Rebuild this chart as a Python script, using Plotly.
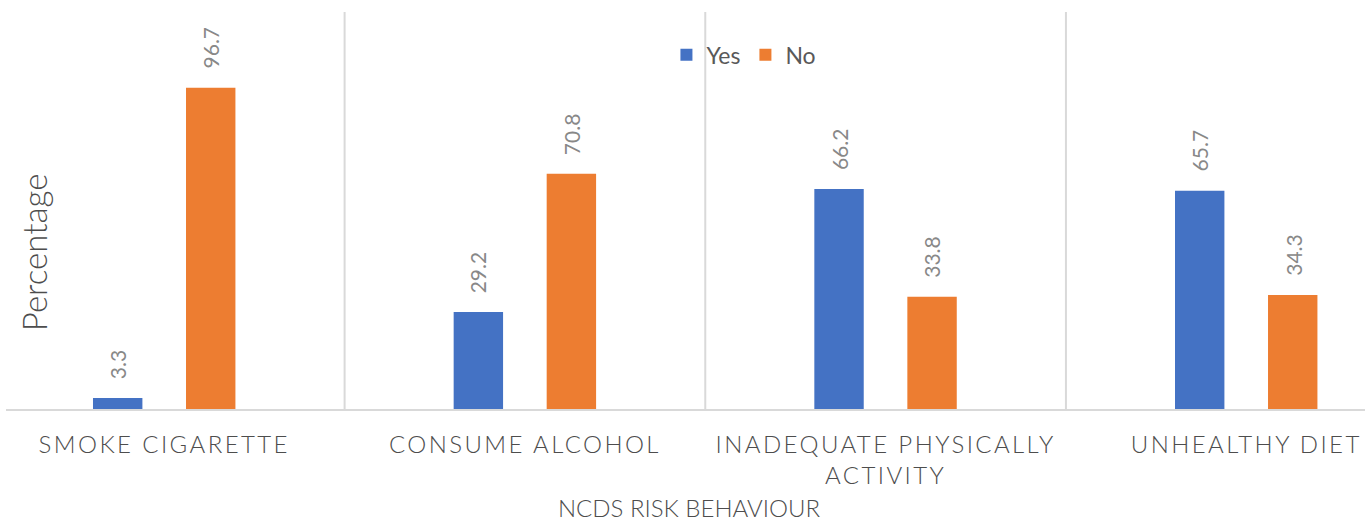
import plotly.graph_objects as go

categories = ["SMOKE CIGARETTE", "CONSUME ALCOHOL", "INADEQUATE PHYSICALLY<br>ACTIVITY", "UNHEALTHY DIET"]
yes_values = [3.3, 29.2, 66.2, 65.7]
no_values = [96.7, 70.8, 33.8, 34.3]
series_names = ["Yes", "No"]

FONT = "Lato"
BLUE = "#4472C4"
ORANGE = "#ED7D31"
BAR_W = 0.137
OFFSETS = [-0.1976, 0.0603]

fig = go.Figure()
for name, vals, color, off in zip(series_names, [yes_values, no_values], [BLUE, ORANGE], OFFSETS):
    fig.add_trace(go.Bar(
        x=list(range(len(categories))), y=vals, name=name,
        marker=dict(color=color, line=dict(width=0)),
        width=BAR_W, offset=off,
    ))

annotations = []
for vals, off in zip([yes_values, no_values], OFFSETS):
    for i, v in enumerate(vals):
        annotations.append(dict(
            x=i + off + BAR_W / 2, y=v, xref="x", yref="y",
            text=f"{v:.1f}", showarrow=False, textangle=-90,
            yanchor="bottom", xanchor="center", yshift=17,
            font=dict(family=FONT, size=21, color="#888888"),
        ))

annotations.append(dict(
    text="Percentage", xref="paper", yref="paper", x=0.0206, y=0.395,
    showarrow=False, textangle=-90, xanchor="center", yanchor="middle",
    font=dict(family=FONT, size=33, color="#4d4d4d", weight=300),
))
annotations.append(dict(
    text="NCDS RISK BEHAVIOUR", xref="paper", yref="paper", x=0.503, y=0,
    yshift=-98, showarrow=False, xanchor="center", yanchor="middle",
    font=dict(family=FONT, size=24, color="#4d4d4d", weight=300),
))

fig.update_layout(
    width=1365, height=522,
    margin=dict(l=6, r=0, t=12, b=113),
    plot_bgcolor="white", paper_bgcolor="white",
    barmode="overlay",
    showlegend=True,
    legend=dict(orientation="h", x=0.543, y=0.892, xanchor="center", yanchor="middle",
                font=dict(family=FONT, size=23, color="#595959", weight=400),
                bgcolor="rgba(0,0,0,0)"),
    annotations=annotations,
    xaxis=dict(
        tickmode="array", tickvals=list(range(len(categories))), ticktext=categories,
        range=[-0.4388, 3.3292],
        showgrid=False, zeroline=False,
        showline=True, linecolor="#d9d9d9", linewidth=2,
        ticks="outside", ticklen=13, tickcolor="rgba(0,0,0,0)",
        tickfont=dict(family=FONT, size=24, color="#4d4d4d", weight=300),
        tickangle=0,
    ),
    yaxis=dict(range=[0, 119.5], showgrid=False, zeroline=False, showticklabels=False,
               showline=False, ticks=""),
    shapes=[dict(type="line", xref="x", yref="paper", x0=b, x1=b, y0=0, y1=1,
                 line=dict(color="#d9d9d9", width=2), layer="below")
            for b in [k + 0.5 for k in range(len(categories) - 1)]],
)

post = "document.querySelectorAll('.xtick text').forEach(function(t){t.style.letterSpacing='2.4px';});"
fig.write_html("out.html", post_script=post)
